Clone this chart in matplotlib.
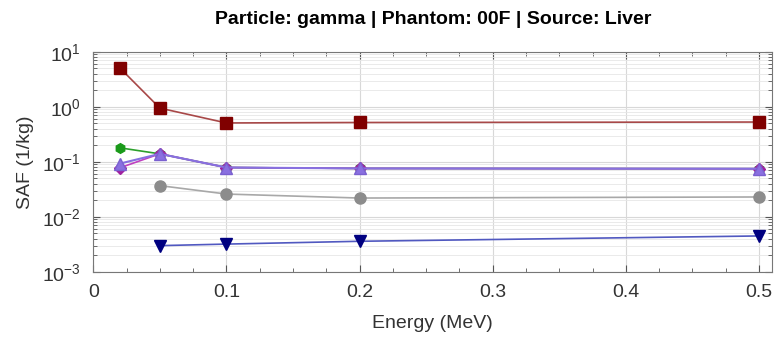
import matplotlib
matplotlib.use("Agg")
import matplotlib.pyplot as plt
from matplotlib.ticker import LogLocator, MultipleLocator, NullFormatter

plt.rcParams['font.family'] = ['Liberation Sans', 'DejaVu Sans']

# energies (MeV)
energy = [0.02, 0.05, 0.1, 0.2, 0.5]

# SAF values (1/kg)
saf_red = [5.1, 0.95, 0.51, 0.52, 0.53]
saf_green = [0.18, 0.14, 0.079, 0.076, 0.075]
saf_magenta = [0.078, 0.14, 0.079, 0.076, 0.075]
saf_purple = [0.093, 0.14, 0.079, 0.076, 0.075]
energy_low = [0.05, 0.1, 0.2, 0.5]
saf_gray = [0.037, 0.026, 0.022, 0.023]
saf_navy = [0.0030, 0.0032, 0.0036, 0.0045]

fig = plt.figure(figsize=(7.77, 3.39), dpi=100)
ax = fig.add_axes([0.12, 0.198, 0.874, 0.649])

ax.plot(energy, saf_red, color='#a84848', marker='s', mfc='#800000', mec='#800000', ms=9, lw=1.2)
ax.plot(energy, saf_green, color='#2ca02c', marker='h', mfc='#1a9a1a', mec='#1a9a1a', ms=7, lw=1.2)
ax.plot(energy, saf_magenta, color='#c040c0', marker='D', mfc='#a020a0', mec='#a020a0', ms=6, lw=1.2)
ax.plot(energy, saf_purple, color='#8870e0', marker='^', mfc='#8a70e0', mec='#7a60d0', ms=9, lw=1.5)
ax.plot(energy_low, saf_gray, color='#a8a8a8', marker='o', mfc='#8c8c8c', mec='#8c8c8c', ms=8, lw=1.2)
ax.plot(energy_low, saf_navy, color='#5058c0', marker='v', mfc='#000080', mec='#000080', ms=9, lw=1.2)

ax.set_yscale('log')
ax.set_ylim(1e-3, 10)
ax.set_xlim(0, 0.51)
ax.xaxis.set_minor_locator(MultipleLocator(0.025))
ax.set_xticks([0, 0.1, 0.2, 0.3, 0.4, 0.5])
ax.set_xticklabels(['0', '0.1', '0.2', '0.3', '0.4', '0.5'])
ax.yaxis.set_major_locator(LogLocator(base=10, numticks=10))
ax.yaxis.set_minor_locator(LogLocator(base=10, subs=range(2, 10), numticks=10))
ax.yaxis.set_minor_formatter(NullFormatter())

ax.grid(True, which='major', color='#d8d8d8', lw=0.8)
ax.grid(True, which='minor', axis='y', color='#e6e6e6', lw=0.6)
ax.set_axisbelow(True)

ax.tick_params(which='both', direction='in', top=True, right=True, colors='#555555',
               labelcolor='#333333', labelsize=14)
ax.tick_params(which='major', length=5, pad=9)
ax.tick_params(which='minor', length=3)
for s in ax.spines.values():
    s.set_color('#777777')

ax.set_xlabel('Energy (MeV)', fontsize=14, color='#333333', labelpad=10)
ax.set_ylabel('SAF (1/kg)', fontsize=14, color='#333333', labelpad=6)
ax.set_title('Particle: gamma | Phantom: 00F | Source: Liver', fontsize=14, fontweight='bold', pad=20)

fig.savefig('out.png', dpi=100)
